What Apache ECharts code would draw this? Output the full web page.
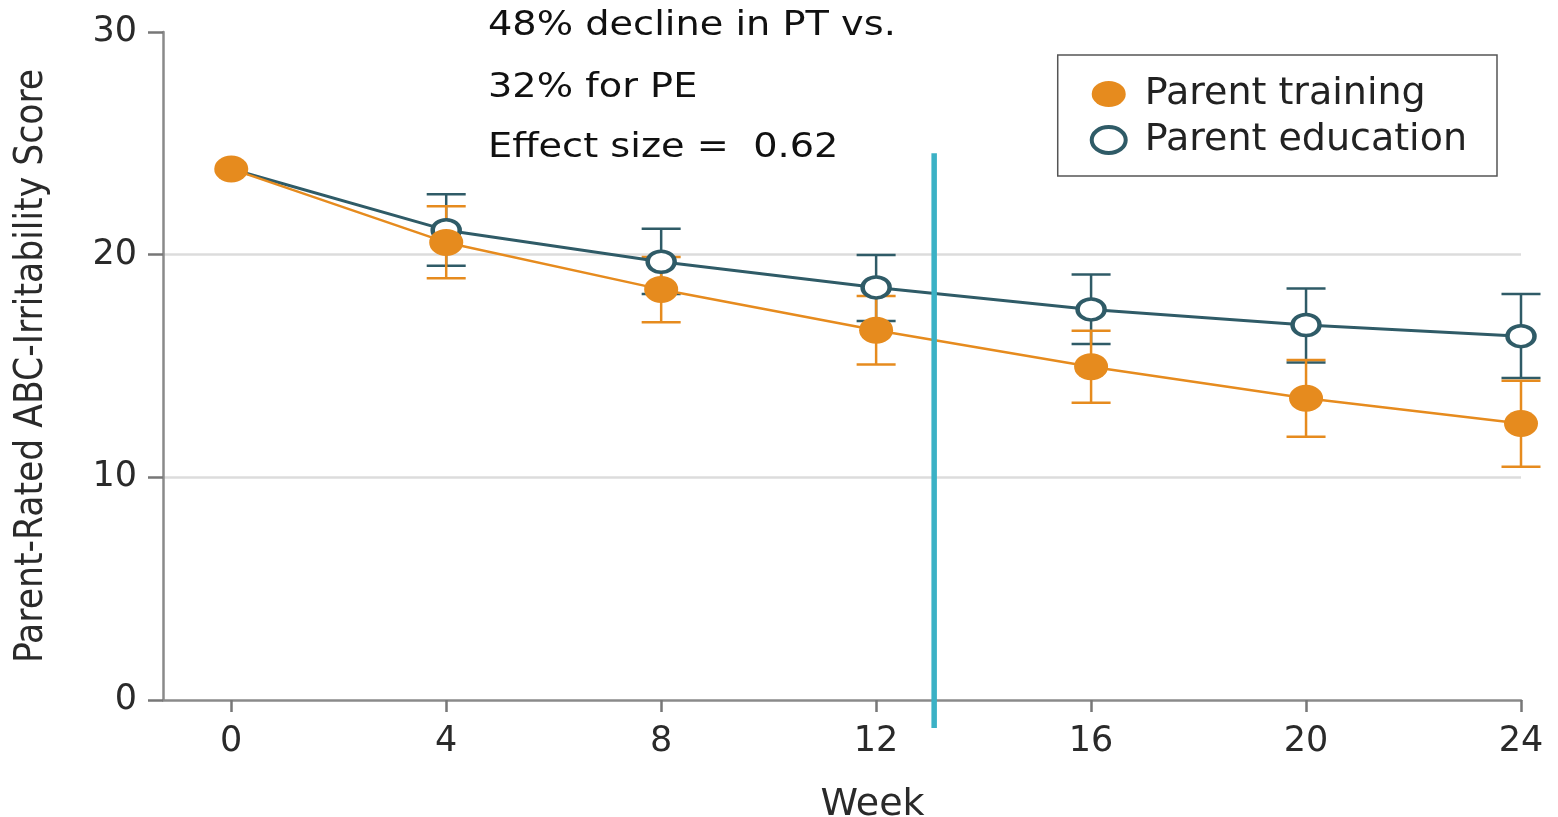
<!DOCTYPE html>
<html>
<head>
<meta charset="utf-8">
<script src="https://cdn.jsdelivr.net/npm/echarts@6/dist/echarts.min.js"></script>
<style>html,body{margin:0;padding:0;background:#fff}#c{width:1558px;height:817px}</style>
</head>
<body>
<div id="c"></div>
<script>
const weeks = [0, 4, 8, 12, 16, 20, 24];
const ptMean  = [23.85, 20.55, 18.44, 16.61, 14.97, 13.55, 12.42];
const ptLower = [null, 18.94, 16.96, 15.07, 13.35, 11.82, 10.48];
const ptUpper = [null, 22.18, 19.90, 18.14, 16.58, 15.27, 14.34];
const peMean  = [23.85, 21.10, 19.68, 18.53, 17.54, 16.84, 16.34];
const peLower = [null, 19.50, 18.23, 17.02, 15.99, 15.16, 14.46];
const peUpper = [null, 22.71, 21.16, 19.98, 19.11, 18.48, 18.23];
const xTicks = [0, 4, 8, 12, 16, 20, 24];
const markerWeek = 13.08;
const markerRange = [-1.26, 24.56];
const notes = ['48% decline in PT vs.', '32% for PE', 'Effect size =  0.62'];

const ORANGE = '#E68B1E';
const TEAL = '#2F5B67';
const CYAN = '#3BB1C5';
const ELLIPSE = 'path://M0,10a10,10 0 1,0 20,0a10,10 0 1,0 -20,0';

function errData(lower, upper) {
  return weeks.map((w, i) => [w, lower[i], upper[i]]).filter(d => d[1] != null);
}
function errSeries(lower, upper, color, z) {
  return {
    type: 'custom', z: z, silent: true,
    renderItem: function (params, api) {
      const x = api.value(0);
      const lo = api.coord([x, api.value(1)]);
      const hi = api.coord([x, api.value(2)]);
      const hw = 19.5;
      const st = { stroke: color, lineWidth: 2.5 };
      return { type: 'group', children: [
        { type: 'line', shape: { x1: lo[0], y1: lo[1], x2: hi[0], y2: hi[1] }, style: st },
        { type: 'line', shape: { x1: lo[0] - hw, y1: lo[1], x2: lo[0] + hw, y2: lo[1] }, style: st },
        { type: 'line', shape: { x1: hi[0] - hw, y1: hi[1], x2: hi[0] + hw, y2: hi[1] }, style: st }
      ]};
    },
    encode: { x: 0, y: [1, 2] },
    data: errData(lower, upper)
  };
}

const chart = echarts.init(document.getElementById('c'));
const labelFont = { fontFamily: 'DejaVu Sans', color: '#2a2a2a' };
chart.setOption({
  animation: false,
  grid: { left: 163, right: 37, top: 32, bottom: 117, outerBoundsMode: 'none', containLabel: false },
  legend: {
    right: 61, top: 55,
    orient: 'vertical',
    padding: [20, 30, 17, 32],
    itemGap: 8,
    itemWidth: 34, itemHeight: 26,
    symbolKeepAspect: false,
    borderColor: '#555', borderWidth: 1.5, borderRadius: 0,
    textStyle: { fontFamily: 'DejaVu Sans', fontSize: 38, color: '#222', padding: [0, 0, 0, 14] },
    data: [
      { name: 'Parent training', icon: ELLIPSE, itemStyle: { color: ORANGE, borderWidth: 0 } },
      { name: 'Parent education', icon: ELLIPSE, itemStyle: { color: '#fff', borderColor: TEAL, borderWidth: 4 } }
    ]
  },
  xAxis: {
    type: 'value', min: -1.27, max: 24,
    axisLine: { show: true, onZero: false, lineStyle: { color: '#8a8a8a', width: 2.5 } },
    axisTick: { show: true, length: 12, lineStyle: { color: '#777', width: 2.5 }, customValues: xTicks },
    axisLabel: Object.assign({ fontSize: 35, margin: 24, customValues: xTicks }, labelFont),
    splitLine: { show: false },
    name: 'Week', nameLocation: 'middle', nameGap: 86,
    nameTextStyle: Object.assign({ fontSize: 38, padding: [0, 0, 0, 61] }, labelFont)
  },
  yAxis: {
    type: 'value', min: 0, max: 30, interval: 10,
    axisLine: { show: true, onZero: false, lineStyle: { color: '#8a8a8a', width: 2.5 } },
    axisTick: { show: true, length: 15, lineStyle: { color: '#777', width: 2.5 } },
    axisLabel: Object.assign({ fontSize: 35, margin: 26 }, labelFont),
    splitLine: { show: true, lineStyle: { color: ['transparent', '#dcdcdc', '#dcdcdc', 'transparent'], width: 2.5 } },
    name: 'Parent-Rated ABC-Irritability Score', nameLocation: 'middle', nameGap: 112, nameRotate: 90,
    nameTextStyle: { fontFamily: "'DejaVu Sans Condensed', 'Open Sans', sans-serif", fontSize: 38.5, color: '#2a2a2a' }
  },
  graphic: notes.map((t, i) => ({
    type: 'text', x: 488, y: [26, 88, 148][i], z: 100, scaleX: 1.16,
    style: { text: t, font: '33px "DejaVu Sans"', fill: '#111', verticalAlign: 'middle' }
  })),
  series: [
    errSeries(peLower, peUpper, TEAL, 2),
    errSeries(ptLower, ptUpper, ORANGE, 3),
    {
      name: 'Parent education', type: 'line', z: 4,
      data: weeks.map((w, i) => [w, peMean[i]]),
      symbol: ELLIPSE, symbolSize: [27, 21],
      lineStyle: { color: TEAL, width: 3 },
      itemStyle: { color: '#fff', borderColor: TEAL, borderWidth: 4 }
    },
    {
      name: 'Parent training', type: 'line', z: 5,
      data: weeks.map((w, i) => [w, ptMean[i]]),
      symbol: ELLIPSE, symbolSize: [34, 27],
      lineStyle: { color: ORANGE, width: 2.5 },
      itemStyle: { color: ORANGE, borderWidth: 0 }
    },
    {
      name: 'marker', type: 'line', z: 6, clip: false, silent: true,
      data: markerRange.map(v => [markerWeek, v]),
      symbol: 'none',
      lineStyle: { color: CYAN, width: 5.5 }
    }
  ]
});
</script>
</body>
</html>
